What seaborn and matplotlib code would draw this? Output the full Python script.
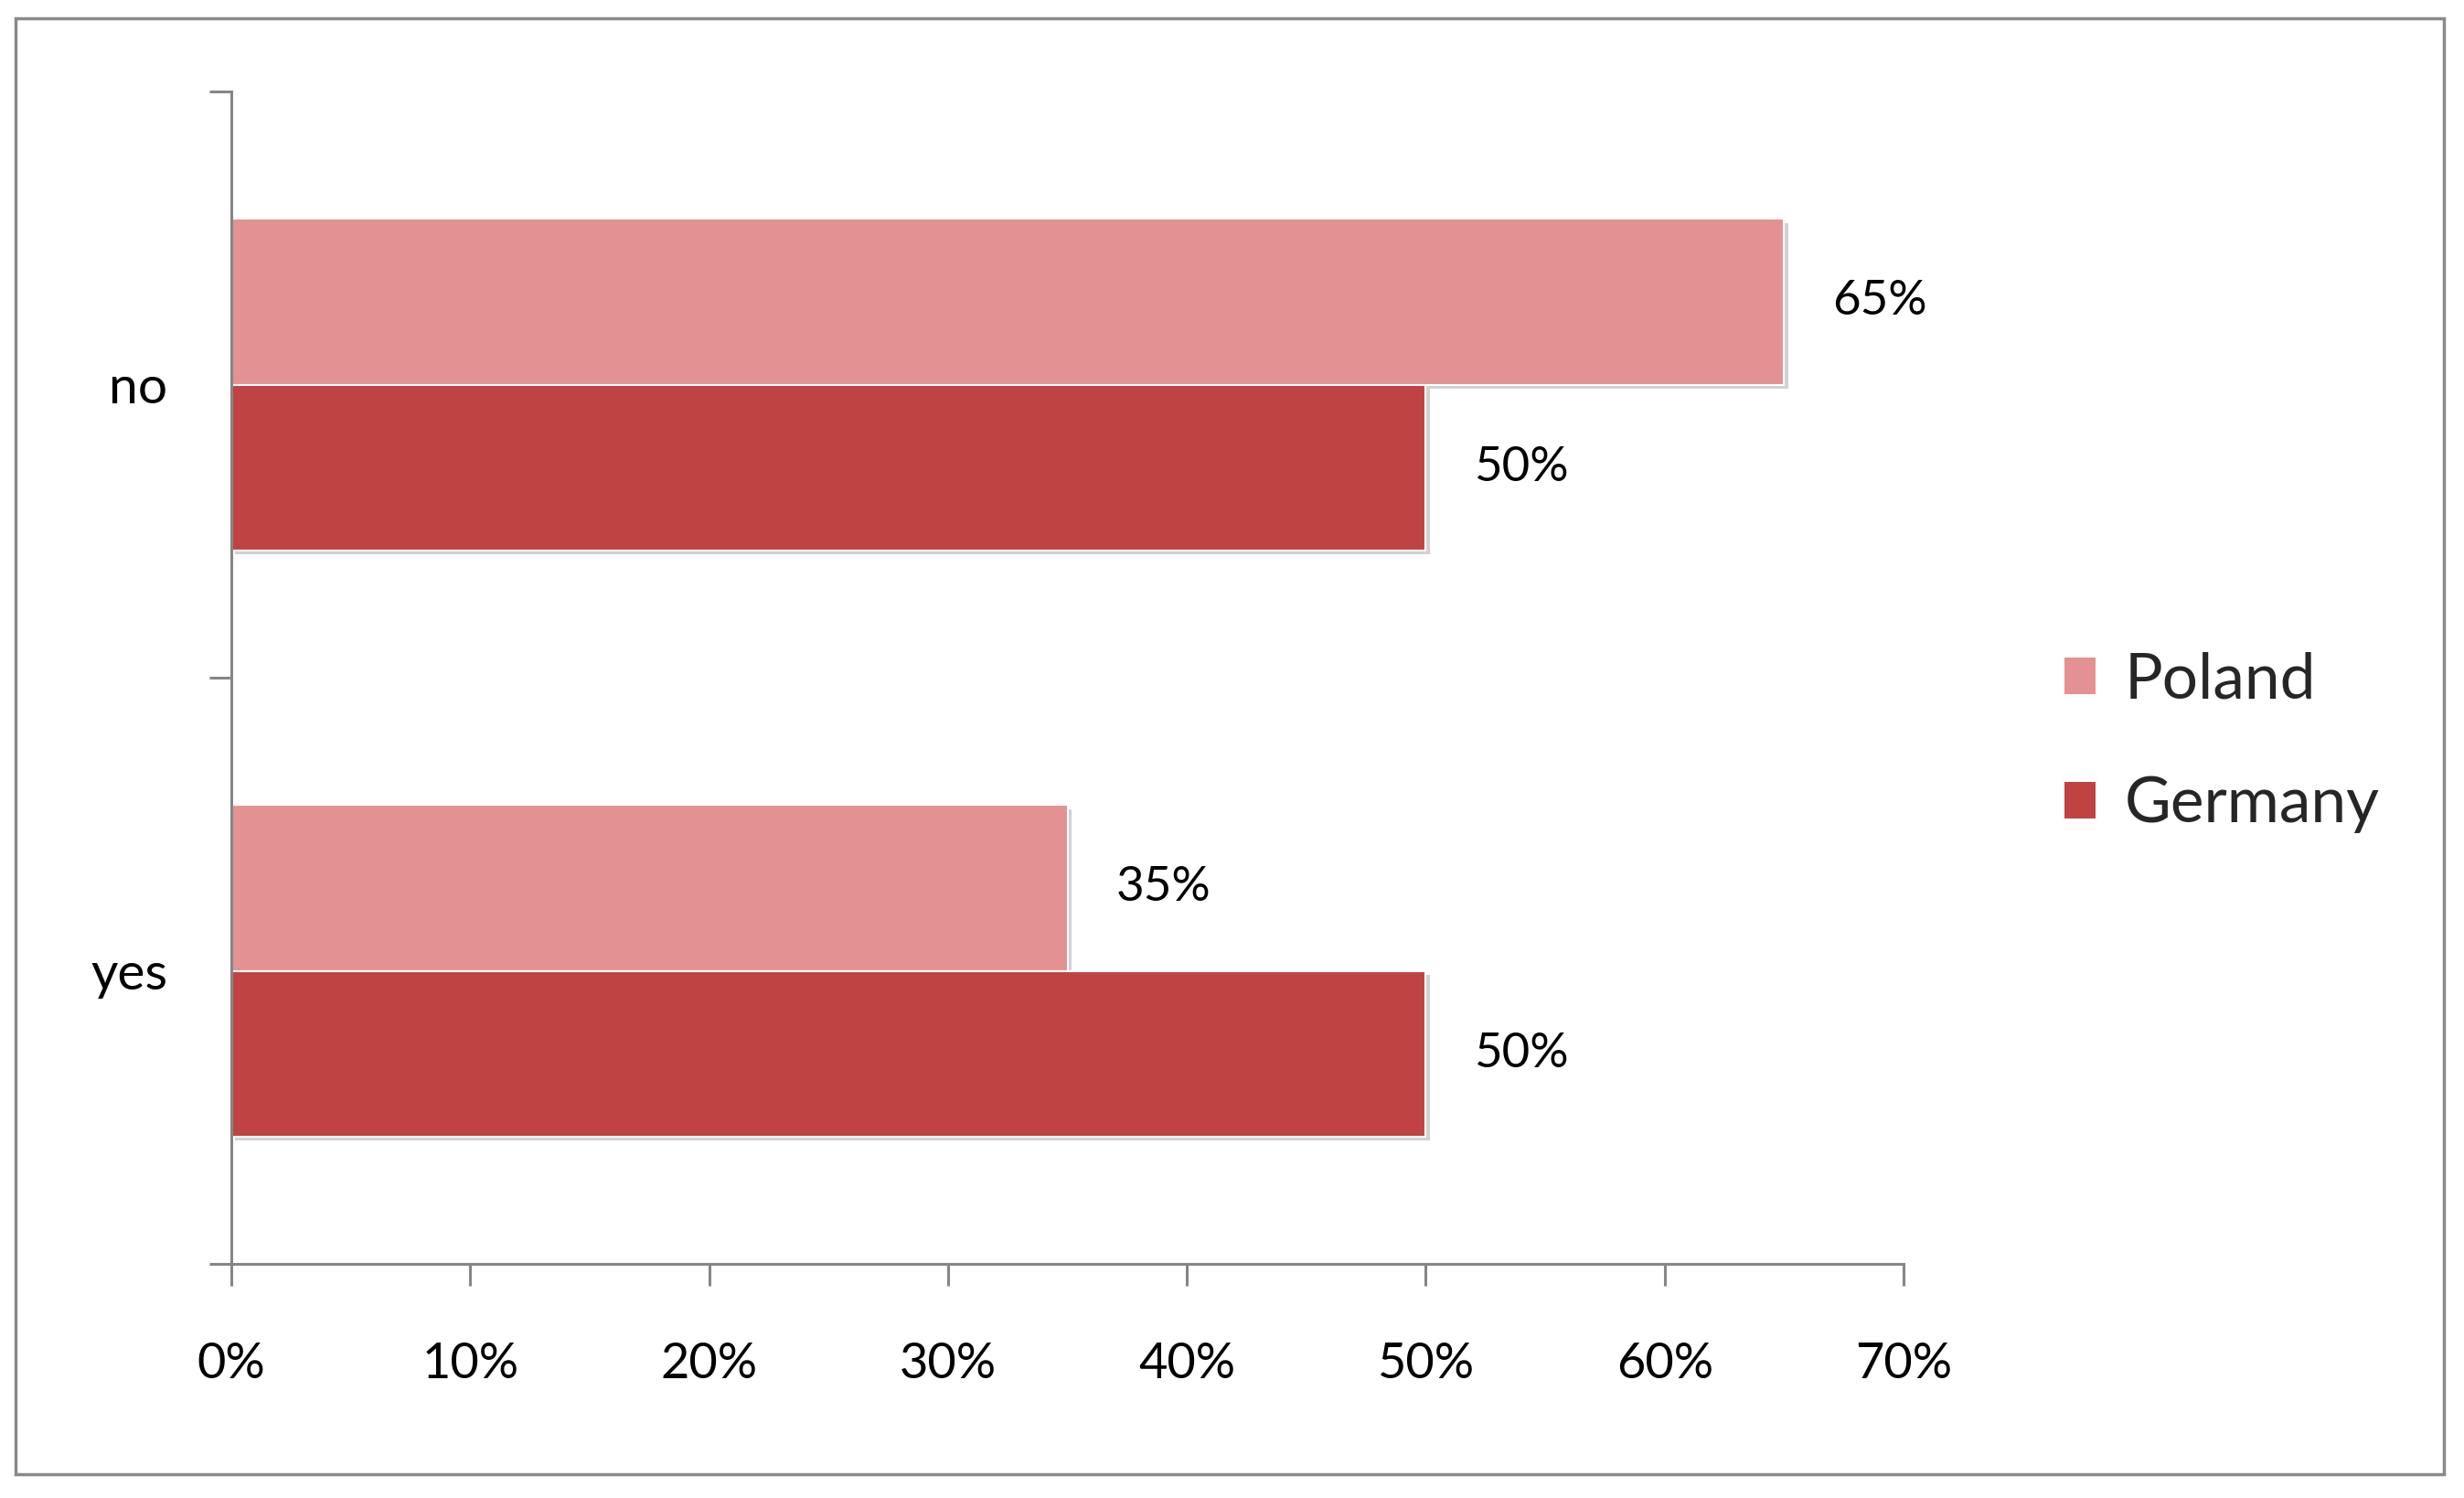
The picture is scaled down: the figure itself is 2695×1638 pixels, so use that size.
import matplotlib
matplotlib.use("Agg")
import matplotlib.pyplot as plt
import matplotlib.patheffects as pe
from matplotlib.patches import Rectangle, Patch
from matplotlib.ticker import PercentFormatter, FixedLocator
import seaborn as sns
import pandas as pd

# ---- data ----
categories = ["no", "yes"]
countries = ["Poland", "Germany"]
poland = [0.65, 0.35]
germany = [0.50, 0.50]
colors = ["#E39191", "#C04343"]
xticks = [0.0, 0.1, 0.2, 0.3, 0.4, 0.5, 0.6, 0.7]

df = pd.DataFrame({
    "answer": categories * 2,
    "country": [countries[0]] * len(categories) + [countries[1]] * len(categories),
    "share": poland + germany,
})

sns.set_theme(style="white")
plt.rcParams["font.family"] = ["Lato", "DejaVu Sans"]

W, H, DPI = 2695, 1638, 100
fig = plt.figure(figsize=(W / DPI, H / DPI), dpi=DPI)
fig.patch.set_facecolor("white")
ax = fig.add_axes([253 / W, 1 - 1382 / H, (2082 - 253) / W, (1382 - 100) / H])

sns.barplot(data=df, y="answer", x="share", hue="country", order=categories,
            hue_order=countries, palette=colors, saturation=1, orient="h", width=0.565,
            edgecolor="white", linewidth=1.5, ax=ax, legend=False)

for patch in ax.patches:
    patch.set_path_effects([pe.SimplePatchShadow(offset=(3, -3), shadow_rgbFace="#999999", alpha=0.45),
                            pe.Normal()])

for cont, vals in zip(ax.containers, [poland, germany]):
    ax.bar_label(cont, labels=[f"{v*100:.0f}%" for v in vals], padding=38,
                 fontsize=38, color="black")

ax.set_xlim(0, 0.7)
ax.set_ylim(1.5, -0.5)
ax.xaxis.set_major_locator(FixedLocator(xticks))
ax.xaxis.set_major_formatter(PercentFormatter(1.0, decimals=0))
ax.set_xlabel("")
ax.set_ylabel("")

ax.set_yticks([0, 1])
ax.set_yticklabels(categories)
ax.set_yticks([-0.5, 0.5, 1.5], minor=True)

spine_col = "#868686"
for s in ["top", "right"]:
    ax.spines[s].set_visible(False)
for s in ["left", "bottom"]:
    ax.spines[s].set_color(spine_col)
    ax.spines[s].set_linewidth(2.2)

ax.tick_params(axis="x", which="major", length=17, width=2.2, color=spine_col,
               direction="out", bottom=True, labelsize=39, pad=44, labelcolor="black")
ax.tick_params(axis="y", which="major", length=0, labelsize=41, pad=50, labelcolor="black")
ax.tick_params(axis="y", which="minor", length=17, width=2.2, color=spine_col,
               direction="out", left=True)

handles = [Patch(facecolor=c, edgecolor="none") for c in colors]
fig.legend(handles, countries, loc="center left", bbox_to_anchor=(2195 / W, 1 - 812 / H),
           frameon=False, fontsize=50, handlelength=0.5, handleheight=0.5,
           handletextpad=0.45, labelspacing=1.05)

fig.add_artist(Rectangle((17 / W, 1 - 1612 / H), (2673 - 17) / W, (1612 - 20) / H,
                         transform=fig.transFigure, fill=False,
                         edgecolor="#8a8a8a", linewidth=2.5))

fig.savefig("out.png", dpi=DPI, facecolor="white")
